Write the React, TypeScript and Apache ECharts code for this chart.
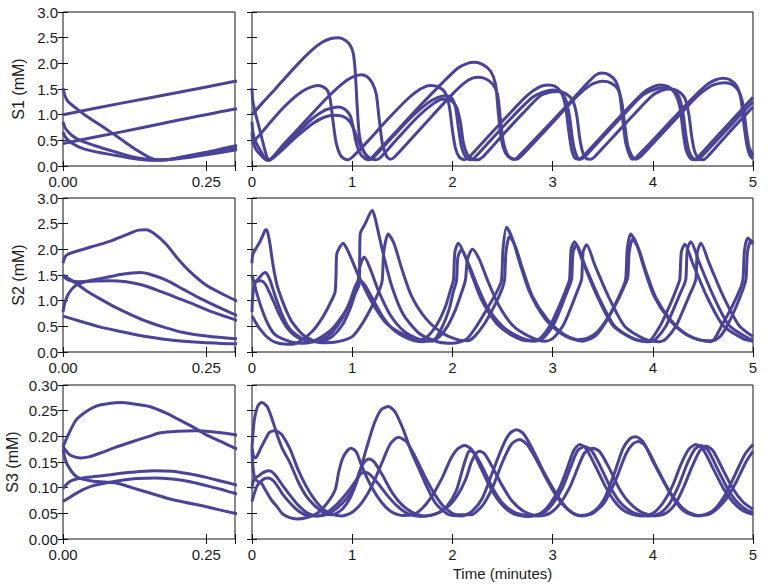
import React, { useEffect, useRef } from 'react';
import * as echarts from 'echarts';

// ---------- data: [time (minutes), concentration (mM)] ----------
const S1_C1 = [[0,1.0],[0.1,1.22],[0.2,1.43],[0.3,1.65],[0.45,1.97],[0.6,2.26],[0.7,2.41],[0.78,2.48],[0.865,2.5],[0.93,2.45],[0.98,2.35],[1.01,2.2],[1.03,1.85],[1.05,1.15],[1.07,0.62],[1.1,0.36],[1.14,0.2],[1.17,0.13],[1.2,0.17],[1.3,0.38],[1.5,0.8],[1.7,1.22],[1.9,1.62],[2.05,1.9],[2.15,2.0],[2.22,2.02],[2.3,1.98],[2.38,1.85],[2.43,1.6],[2.46,1.0],[2.49,0.5],[2.53,0.25],[2.58,0.15],[2.62,0.13],[2.66,0.19],[2.8,0.47],[3.0,0.88],[3.2,1.3],[3.35,1.62],[3.43,1.77],[3.49,1.81],[3.56,1.78],[3.63,1.65],[3.67,1.4],[3.7,0.9],[3.73,0.45],[3.77,0.2],[3.8,0.13],[3.84,0.18],[4.0,0.5],[4.2,0.92],[4.4,1.33],[4.55,1.6],[4.63,1.68],[4.7,1.71],[4.77,1.68],[4.84,1.55],[4.88,1.3],[4.91,0.8],[4.94,0.4],[4.97,0.2],[5.0,0.14]];
const S1_C2 = [[0,0.44],[0.1,0.66],[0.2,0.89],[0.3,1.11],[0.4,1.3],[0.5,1.45],[0.58,1.53],[0.655,1.57],[0.7,1.55],[0.75,1.48],[0.78,1.3],[0.81,0.85],[0.84,0.45],[0.88,0.22],[0.92,0.14],[0.96,0.12],[1.0,0.17],[1.15,0.47],[1.35,0.9],[1.55,1.3],[1.68,1.5],[1.78,1.57],[1.86,1.54],[1.93,1.42],[1.97,1.15],[2.0,0.7],[2.03,0.35],[2.07,0.17],[2.12,0.12],[2.16,0.16],[2.35,0.56],[2.55,0.98],[2.75,1.38],[2.87,1.54],[2.95,1.58],[3.03,1.55],[3.09,1.42],[3.13,1.15],[3.16,0.7],[3.19,0.32],[3.22,0.16],[3.26,0.13],[3.3,0.18],[3.5,0.6],[3.7,1.02],[3.9,1.42],[4.0,1.54],[4.07,1.58],[4.15,1.55],[4.22,1.42],[4.27,1.15],[4.3,0.7],[4.33,0.33],[4.37,0.16],[4.41,0.12],[4.45,0.17],[4.65,0.6],[4.85,1.02],[5.0,1.34]];
const S1_C3 = [[0,1.52],[0.004,1.35],[0.01,1.24],[0.02,1.15],[0.04,0.98],[0.07,0.76],[0.1,0.53],[0.13,0.3],[0.15,0.17],[0.165,0.12],[0.18,0.12],[0.2,0.16],[0.25,0.27],[0.3,0.39],[0.45,0.7],[0.6,1.02],[0.75,1.33],[0.9,1.6],[1.0,1.73],[1.09,1.78],[1.15,1.74],[1.2,1.62],[1.24,1.4],[1.27,0.9],[1.3,0.45],[1.34,0.2],[1.38,0.13],[1.42,0.17],[1.6,0.55],[1.8,0.98],[2.0,1.4],[2.12,1.62],[2.2,1.71],[2.26,1.73],[2.33,1.7],[2.4,1.6],[2.45,1.4],[2.48,0.9],[2.51,0.45],[2.55,0.22],[2.6,0.14],[2.64,0.13],[2.68,0.18],[2.85,0.53],[3.05,0.95],[3.25,1.37],[3.38,1.58],[3.44,1.63],[3.5,1.65],[3.58,1.62],[3.65,1.5],[3.69,1.25],[3.72,0.8],[3.75,0.4],[3.79,0.2],[3.83,0.13],[3.87,0.17],[4.05,0.54],[4.25,0.96],[4.45,1.37],[4.58,1.56],[4.66,1.61],[4.72,1.62],[4.8,1.58],[4.86,1.45],[4.9,1.2],[4.93,0.75],[4.96,0.38],[5.0,0.2]];
const S1_C4 = [[0,0.86],[0.005,0.72],[0.015,0.6],[0.03,0.5],[0.06,0.38],[0.09,0.28],[0.12,0.18],[0.145,0.13],[0.16,0.115],[0.18,0.12],[0.2,0.15],[0.25,0.24],[0.3,0.34],[0.45,0.64],[0.6,0.92],[0.72,1.08],[0.8,1.13],[0.865,1.15],[0.93,1.1],[0.98,0.98],[1.01,0.75],[1.04,0.45],[1.08,0.24],[1.13,0.14],[1.17,0.12],[1.21,0.16],[1.4,0.56],[1.6,0.97],[1.75,1.22],[1.85,1.33],[1.93,1.37],[1.99,1.33],[2.03,1.15],[2.06,0.75],[2.09,0.38],[2.13,0.18],[2.18,0.12],[2.22,0.16],[2.4,0.54],[2.6,0.96],[2.8,1.34],[2.92,1.45],[3.0,1.48],[3.08,1.44],[3.13,1.3],[3.17,0.95],[3.2,0.5],[3.23,0.25],[3.27,0.13],[3.31,0.16],[3.5,0.56],[3.7,0.98],[3.9,1.38],[4.03,1.5],[4.12,1.53],[4.2,1.49],[4.26,1.35],[4.3,1.05],[4.33,0.6],[4.36,0.3],[4.4,0.15],[4.44,0.12],[4.48,0.17],[4.7,0.63],[4.9,1.05],[5.0,1.25]];
const S1_C5 = [[0,0.66],[0.005,0.55],[0.015,0.45],[0.035,0.34],[0.06,0.27],[0.09,0.21],[0.12,0.15],[0.14,0.12],[0.16,0.11],[0.18,0.12],[0.2,0.14],[0.25,0.22],[0.3,0.31],[0.45,0.58],[0.6,0.82],[0.72,0.95],[0.82,0.99],[0.9,0.97],[0.97,0.88],[1.02,0.7],[1.07,0.45],[1.12,0.26],[1.18,0.15],[1.235,0.12],[1.28,0.16],[1.45,0.53],[1.65,0.95],[1.8,1.2],[1.9,1.3],[1.98,1.28],[2.04,1.15],[2.08,0.85],[2.11,0.45],[2.15,0.22],[2.2,0.13],[2.25,0.12],[2.3,0.17],[2.5,0.6],[2.7,1.02],[2.88,1.37],[2.98,1.44],[3.05,1.45],[3.13,1.41],[3.2,1.28],[3.24,1.0],[3.27,0.55],[3.3,0.27],[3.34,0.14],[3.38,0.13],[3.42,0.18],[3.6,0.56],[3.8,0.98],[4.0,1.38],[4.1,1.48],[4.17,1.5],[4.25,1.46],[4.32,1.32],[4.36,1.0],[4.39,0.55],[4.42,0.27],[4.46,0.14],[4.5,0.12],[4.54,0.17],[4.75,0.63],[4.95,1.05],[5.0,1.15]];

const S2_C1 = [[0,1.5],[0.02,1.36],[0.04,1.2],[0.064,1.04],[0.09,0.88],[0.12,0.72],[0.15,0.58],[0.18,0.47],[0.21,0.38],[0.25,0.31],[0.3,0.26],[0.4,0.19],[0.5,0.17],[0.6,0.2],[0.7,0.3],[0.8,0.45],[0.9,0.7],[0.98,0.95],[1.04,1.18],[1.07,1.32],[1.075,1.9],[1.08,2.3],[1.13,2.5],[1.2,2.76],[1.23,2.6],[1.27,2.25],[1.32,1.83],[1.4,1.25],[1.51,0.73],[1.67,0.36],[1.85,0.2],[2.0,0.17],[2.14,0.25],[2.24,0.5],[2.35,0.85],[2.45,1.2],[2.49,1.4],[2.505,2.0],[2.54,2.43],[2.6,2.2],[2.67,1.75],[2.77,1.17],[2.92,0.66],[3.07,0.38],[3.2,0.25],[3.3,0.21],[3.43,0.32],[3.53,0.58],[3.63,0.95],[3.7,1.25],[3.73,1.43],[3.745,2.0],[3.78,2.3],[3.84,2.1],[3.91,1.65],[4.01,1.1],[4.16,0.64],[4.31,0.37],[4.46,0.24],[4.58,0.2],[4.7,0.56],[4.8,0.92],[4.87,1.22],[4.9,1.42],[4.915,1.98],[4.95,2.22],[5.0,2.1]];
const S2_C2 = [[0,0.7],[0.03,0.6],[0.064,0.49],[0.1,0.4],[0.134,0.32],[0.17,0.26],[0.21,0.21],[0.25,0.18],[0.3,0.16],[0.4,0.15],[0.48,0.21],[0.6,0.4],[0.7,0.66],[0.78,0.95],[0.83,1.18],[0.845,1.9],[0.87,2.02],[0.91,2.12],[0.95,2.0],[1.0,1.78],[1.06,1.5],[1.19,0.99],[1.35,0.54],[1.57,0.28],[1.65,0.22],[1.75,0.3],[1.85,0.55],[1.93,0.88],[1.98,1.2],[2.01,1.4],[2.025,1.95],[2.06,2.12],[2.12,1.9],[2.19,1.52],[2.29,1.02],[2.44,0.56],[2.6,0.32],[2.75,0.22],[2.87,0.26],[2.97,0.5],[3.04,0.78],[3.1,1.05],[3.15,1.3],[3.17,1.42],[3.185,2.0],[3.22,2.15],[3.3,1.76],[3.44,1.11],[3.6,0.52],[3.8,0.26],[3.95,0.2],[4.07,0.5],[4.14,0.78],[4.2,1.05],[4.25,1.3],[4.27,1.42],[4.285,1.95],[4.32,2.1],[4.4,1.72],[4.54,1.08],[4.7,0.52],[4.9,0.26],[5.0,0.21]];
const S2_C3 = [[0,1.73],[0.003,1.84],[0.008,1.9],[0.02,1.95],[0.05,2.05],[0.08,2.15],[0.11,2.28],[0.13,2.37],[0.145,2.38],[0.16,2.3],[0.18,2.1],[0.2,1.82],[0.22,1.58],[0.25,1.3],[0.28,1.12],[0.3,1.01],[0.35,0.77],[0.4,0.58],[0.5,0.35],[0.6,0.23],[0.7,0.18],[0.85,0.2],[1.0,0.3],[1.1,0.55],[1.2,0.9],[1.27,1.2],[1.3,1.4],[1.315,1.95],[1.36,2.3],[1.42,2.1],[1.49,1.65],[1.59,1.1],[1.74,0.64],[1.9,0.37],[2.05,0.24],[2.15,0.22],[2.22,0.3],[2.32,0.55],[2.42,0.9],[2.49,1.2],[2.52,1.4],[2.535,1.95],[2.57,2.25],[2.63,2.05],[2.7,1.62],[2.8,1.08],[2.95,0.63],[3.1,0.36],[3.25,0.24],[3.35,0.27],[3.45,0.4],[3.55,0.66],[3.65,1.0],[3.72,1.3],[3.75,1.45],[3.765,1.95],[3.8,2.2],[3.86,2.0],[3.93,1.58],[4.03,1.06],[4.18,0.62],[4.33,0.35],[4.48,0.23],[4.6,0.22],[4.68,0.32],[4.76,0.58],[4.84,0.92],[4.9,1.22],[4.93,1.42],[4.945,1.95],[4.98,2.17],[5.0,2.12]];
const S2_C4 = [[0,0.78],[0.003,0.95],[0.008,1.1],[0.015,1.22],[0.023,1.3],[0.04,1.37],[0.07,1.44],[0.1,1.51],[0.12,1.54],[0.135,1.55],[0.15,1.52],[0.18,1.4],[0.21,1.22],[0.24,1.04],[0.27,0.88],[0.3,0.73],[0.35,0.53],[0.4,0.4],[0.5,0.26],[0.6,0.2],[0.7,0.21],[0.8,0.3],[0.9,0.52],[0.98,0.85],[1.03,1.15],[1.06,1.4],[1.075,1.65],[1.12,1.85],[1.18,1.62],[1.26,1.2],[1.38,0.72],[1.52,0.4],[1.68,0.24],[1.8,0.21],[1.9,0.5],[1.97,0.85],[2.01,1.18],[2.04,1.38],[2.055,1.85],[2.09,1.99],[2.16,1.72],[2.24,1.33],[2.34,0.9],[2.5,0.5],[2.66,0.3],[2.82,0.21],[2.9,0.26],[3.0,0.5],[3.07,0.8],[3.13,1.1],[3.17,1.3],[3.19,1.42],[3.205,1.95],[3.24,2.09],[3.32,1.7],[3.46,1.07],[3.62,0.5],[3.82,0.25],[3.97,0.2],[4.03,0.25],[4.13,0.5],[4.2,0.8],[4.26,1.08],[4.31,1.3],[4.33,1.42],[4.345,2.0],[4.38,2.15],[4.46,1.76],[4.6,1.11],[4.76,0.52],[4.96,0.26],[5.0,0.24]];
const S2_C5 = [[0,1.48],[0.01,1.4],[0.025,1.37],[0.05,1.38],[0.08,1.39],[0.11,1.37],[0.14,1.3],[0.17,1.18],[0.2,1.05],[0.23,0.92],[0.26,0.78],[0.3,0.63],[0.35,0.47],[0.42,0.33],[0.5,0.24],[0.6,0.2],[0.7,0.24],[0.8,0.38],[0.9,0.65],[0.98,1.0],[1.03,1.28],[1.07,1.4],[1.12,1.32],[1.2,1.05],[1.3,0.7],[1.42,0.42],[1.56,0.26],[1.7,0.2],[1.85,0.27],[1.95,0.5],[2.03,0.82],[2.09,1.15],[2.13,1.4],[2.15,1.8],[2.2,2.0],[2.27,1.8],[2.35,1.4],[2.46,0.92],[2.6,0.52],[2.76,0.31],[2.92,0.21],[3.0,0.26],[3.1,0.5],[3.17,0.8],[3.23,1.1],[3.27,1.3],[3.29,1.42],[3.305,1.95],[3.34,2.09],[3.42,1.7],[3.56,1.07],[3.72,0.5],[3.92,0.25],[4.07,0.2],[4.13,0.25],[4.23,0.5],[4.3,0.8],[4.36,1.08],[4.41,1.3],[4.43,1.42],[4.445,1.95],[4.48,2.12],[4.56,1.74],[4.7,1.1],[4.86,0.52],[5.0,0.3]];

const S3_C1 = [[0,0.18],[0.01,0.205],[0.023,0.232],[0.04,0.248],[0.058,0.259],[0.08,0.264],[0.1,0.266],[0.125,0.263],[0.151,0.258],[0.18,0.245],[0.203,0.232],[0.23,0.216],[0.25,0.203],[0.275,0.19],[0.3,0.177],[0.38,0.148],[0.46,0.112],[0.54,0.084],[0.62,0.066],[0.71,0.052],[0.8,0.047],[0.9,0.058],[0.98,0.08],[1.06,0.12],[1.14,0.175],[1.22,0.225],[1.29,0.252],[1.36,0.258],[1.43,0.247],[1.51,0.213],[1.59,0.17],[1.67,0.135],[1.75,0.1],[1.83,0.07],[1.96,0.048],[2.1,0.045],[2.2,0.055],[2.3,0.08],[2.4,0.13],[2.5,0.18],[2.57,0.205],[2.64,0.213],[2.71,0.205],[2.8,0.175],[2.9,0.135],[3.0,0.1],[3.1,0.07],[3.2,0.05],[3.3,0.045],[3.42,0.055],[3.52,0.08],[3.62,0.13],[3.7,0.175],[3.77,0.195],[3.83,0.199],[3.9,0.19],[4.01,0.148],[4.1,0.115],[4.17,0.09],[4.27,0.062],[4.35,0.05],[4.46,0.045],[4.6,0.055],[4.72,0.085],[4.82,0.125],[4.92,0.165],[5.0,0.184]];
const S3_C2 = [[0,0.18],[0.008,0.168],[0.015,0.162],[0.03,0.158],[0.045,0.16],[0.064,0.167],[0.09,0.178],[0.122,0.19],[0.15,0.2],[0.17,0.207],[0.2,0.21],[0.23,0.211],[0.26,0.209],[0.3,0.203],[0.38,0.175],[0.46,0.135],[0.54,0.103],[0.62,0.078],[0.71,0.058],[0.8,0.048],[0.9,0.045],[1.0,0.052],[1.1,0.072],[1.2,0.105],[1.3,0.15],[1.38,0.185],[1.46,0.198],[1.54,0.19],[1.63,0.16],[1.73,0.12],[1.83,0.085],[1.93,0.06],[2.05,0.047],[2.18,0.047],[2.3,0.065],[2.4,0.1],[2.5,0.15],[2.59,0.185],[2.67,0.194],[2.75,0.183],[2.85,0.15],[2.95,0.113],[3.05,0.08],[3.15,0.058],[3.27,0.046],[3.4,0.05],[3.52,0.072],[3.63,0.115],[3.73,0.165],[3.8,0.185],[3.86,0.19],[3.93,0.18],[4.03,0.143],[4.13,0.105],[4.23,0.075],[4.33,0.055],[4.45,0.046],[4.58,0.05],[4.72,0.075],[4.83,0.11],[4.93,0.15],[5.0,0.171]];
const S3_C3 = [[0,0.175],[0.004,0.155],[0.01,0.14],[0.02,0.125],[0.03,0.118],[0.05,0.113],[0.07,0.111],[0.093,0.109],[0.12,0.1],[0.15,0.09],[0.18,0.08],[0.21,0.072],[0.25,0.063],[0.3,0.05],[0.37,0.042],[0.45,0.039],[0.55,0.042],[0.65,0.05],[0.75,0.07],[0.83,0.096],[0.865,0.13],[0.9,0.155],[0.95,0.172],[0.99,0.177],[1.04,0.17],[1.09,0.145],[1.17,0.11],[1.25,0.083],[1.33,0.063],[1.41,0.051],[1.5,0.046],[1.6,0.047],[1.7,0.06],[1.8,0.085],[1.9,0.12],[1.98,0.155],[2.05,0.175],[2.12,0.182],[2.19,0.175],[2.28,0.14],[2.38,0.1],[2.48,0.07],[2.6,0.05],[2.75,0.044],[2.88,0.05],[2.98,0.07],[3.07,0.1],[3.15,0.14],[3.21,0.172],[3.27,0.184],[3.33,0.177],[3.42,0.145],[3.52,0.105],[3.62,0.073],[3.73,0.053],[3.88,0.045],[4.0,0.05],[4.1,0.07],[4.2,0.105],[4.28,0.145],[4.36,0.175],[4.43,0.184],[4.5,0.175],[4.6,0.138],[4.7,0.1],[4.8,0.072],[4.9,0.055],[5.0,0.048]];
const S3_C4 = [[0,0.098],[0.005,0.105],[0.012,0.112],[0.02,0.116],[0.035,0.119],[0.05,0.121],[0.075,0.124],[0.1,0.128],[0.13,0.131],[0.16,0.133],[0.19,0.132],[0.22,0.127],[0.25,0.12],[0.275,0.113],[0.3,0.106],[0.38,0.085],[0.46,0.066],[0.55,0.051],[0.65,0.045],[0.75,0.048],[0.85,0.06],[0.95,0.08],[1.03,0.105],[1.07,0.13],[1.12,0.15],[1.17,0.156],[1.22,0.15],[1.3,0.125],[1.4,0.09],[1.5,0.066],[1.6,0.052],[1.72,0.045],[1.85,0.05],[1.95,0.065],[2.04,0.095],[2.1,0.135],[2.14,0.16],[2.17,0.172],[2.21,0.17],[2.3,0.14],[2.4,0.1],[2.5,0.07],[2.62,0.052],[2.78,0.045],[2.9,0.05],[3.0,0.068],[3.1,0.1],[3.18,0.14],[3.25,0.172],[3.32,0.18],[3.39,0.172],[3.48,0.14],[3.58,0.1],[3.68,0.07],[3.8,0.052],[3.95,0.045],[4.07,0.05],[4.17,0.07],[4.26,0.105],[4.34,0.145],[4.42,0.175],[4.48,0.182],[4.55,0.173],[4.65,0.135],[4.75,0.097],[4.85,0.07],[4.95,0.055],[5.0,0.052]];
const S3_C5 = [[0,0.073],[0.01,0.08],[0.02,0.087],[0.035,0.096],[0.05,0.103],[0.07,0.108],[0.1,0.114],[0.13,0.118],[0.16,0.119],[0.19,0.117],[0.22,0.112],[0.25,0.104],[0.275,0.097],[0.3,0.089],[0.38,0.07],[0.46,0.055],[0.55,0.046],[0.65,0.045],[0.75,0.052],[0.85,0.068],[0.95,0.09],[1.03,0.112],[1.08,0.126],[1.12,0.13],[1.17,0.127],[1.25,0.11],[1.35,0.085],[1.45,0.064],[1.55,0.05],[1.68,0.044],[1.82,0.048],[1.95,0.062],[2.05,0.085],[2.13,0.115],[2.19,0.15],[2.23,0.165],[2.27,0.171],[2.32,0.166],[2.4,0.14],[2.5,0.103],[2.6,0.073],[2.72,0.053],[2.85,0.045],[2.97,0.05],[3.07,0.068],[3.17,0.1],[3.25,0.138],[3.32,0.168],[3.4,0.177],[3.47,0.17],[3.56,0.14],[3.66,0.1],[3.76,0.072],[3.88,0.053],[4.02,0.045],[4.13,0.05],[4.23,0.07],[4.31,0.102],[4.39,0.14],[4.47,0.172],[4.53,0.181],[4.6,0.172],[4.7,0.135],[4.8,0.098],[4.9,0.072],[5.0,0.058]];

const S1_SERIES = [S1_C1, S1_C2, S1_C3, S1_C4, S1_C5];
const S2_SERIES = [S2_C1, S2_C2, S2_C3, S2_C4, S2_C5];
const S3_SERIES = [S3_C1, S3_C2, S3_C3, S3_C4, S3_C5];

const ROW_NAMES = ['S1 (mM)', 'S2 (mM)', 'S3 (mM)'];
const ROW_Y_MAX = [3, 3, 0.3];
const ROW_Y_STEP = [0.5, 0.5, 0.05];
const ROW_Y_DECIMALS = [1, 1, 2];
const ZOOM_X_MAX = 0.3;
const ZOOM_X_STEP = 0.25;
const FULL_X_MAX = 5;
const FULL_X_STEP = 1;
const X_TITLE = 'Time (minutes)';

// ---------- layout / style ----------
const ROW_TOPS = [12, 198, 385];
const ROW_H = 154;
const COLS = [{ left: 63, width: 172 }, { left: 252, width: 501 }];
const LINE_COLOR = '#4b4398';
const FONT = 'Liberation Sans, Arial, Helvetica, sans-serif';
const TEXT_COLOR = '#1a1a1a';

export default function App() {
  const ref = useRef<HTMLDivElement>(null);

  useEffect(() => {
    if (!ref.current) return;
    const chart = echarts.init(ref.current, null, { renderer: 'svg' });
    const rowsData = [S1_SERIES, S2_SERIES, S3_SERIES];
    const grids: any[] = [];
    const xAxes: any[] = [];
    const yAxes: any[] = [];
    const series: any[] = [];
    const tick = { show: true, inside: true, length: 5, lineStyle: { color: '#111', width: 1 } };

    for (let r = 0; r < 3; r++) {
      for (let c = 0; c < 2; c++) {
        const g = r * 2 + c;
        grids.push({
          left: COLS[c].left, top: ROW_TOPS[r], width: COLS[c].width, height: ROW_H,
          show: true, borderColor: '#111', borderWidth: 1, backgroundColor: 'transparent',
        });
        const xMax = c === 0 ? ZOOM_X_MAX : FULL_X_MAX;
        const xStep = c === 0 ? ZOOM_X_STEP : FULL_X_STEP;
        const xFmt = c === 0
          ? (v: number) => (Math.abs(v) < 1e-9 || Math.abs(v - 0.25) < 1e-9 ? v.toFixed(2) : '')
          : (v: number) => String(Math.round(v));
        const xBase = {
          type: 'value', gridIndex: g, min: 0, max: xMax, interval: xStep,
          axisLine: { show: false }, splitLine: { show: false }, axisTick: tick,
        };
        xAxes.push({
          ...xBase, position: 'bottom',
          axisLabel: { show: true, formatter: xFmt, margin: 8, fontSize: 15, color: TEXT_COLOR, fontFamily: FONT },
          ...(r === 2 && c === 1 ? {
            name: X_TITLE, nameLocation: 'middle', nameGap: 27,
            nameTextStyle: { fontSize: 15, color: TEXT_COLOR, fontFamily: FONT },
          } : {}),
        });
        xAxes.push({ ...xBase, position: 'top', axisLabel: { show: false } });

        const dec = ROW_Y_DECIMALS[r];
        const yBase = {
          type: 'value', gridIndex: g, min: 0, max: ROW_Y_MAX[r], interval: ROW_Y_STEP[r],
          axisLine: { show: false }, splitLine: { show: false }, axisTick: tick,
        };
        yAxes.push({
          ...yBase, position: 'left',
          axisLabel: {
            show: c === 0, formatter: (v: number) => v.toFixed(dec), margin: 5,
            fontSize: 15, color: TEXT_COLOR, fontFamily: FONT,
          },
          ...(c === 0 ? {
            name: ROW_NAMES[r], nameLocation: 'middle', nameGap: r === 2 ? 43 : 37,
            nameTextStyle: { fontSize: 16, color: TEXT_COLOR, fontFamily: FONT },
          } : {}),
        });
        yAxes.push({ ...yBase, position: 'right', axisLabel: { show: false } });

        rowsData[r].forEach((d) => {
          series.push({
            type: 'line', data: d, xAxisIndex: g * 2, yAxisIndex: g * 2,
            showSymbol: false, symbol: 'none', smooth: 0.25, clip: true,
            lineStyle: { color: LINE_COLOR, width: 3 }, silent: true,
          });
        });
      }
    }

    chart.setOption({
      animation: false,
      backgroundColor: '#ffffff',
      grid: grids, xAxis: xAxes, yAxis: yAxes, series,
    });
    return () => chart.dispose();
  }, []);

  return <div ref={ref} style={{ position: 'absolute', left: 0, top: 0, width: 777, height: 588 }} />;
}
